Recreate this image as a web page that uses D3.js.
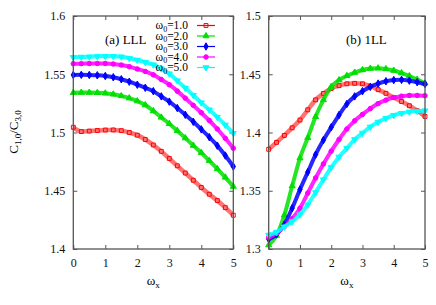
<!DOCTYPE html>
<html>
<head>
<meta charset="utf-8">
<script src="https://cdn.jsdelivr.net/npm/d3@7"></script>
<style>
  body { margin: 0; background: #fff; }
  text { font-family: "Liberation Serif", "DejaVu Serif", serif; }
</style>
</head>
<body>
<script>
// omega_x samples (step 0.25)
var omegaX = [0, 0.25, 0.5, 0.75, 1, 1.25, 1.5, 1.75, 2, 2.25, 2.5, 2.75, 3, 3.25, 3.5, 3.75, 4, 4.25, 4.5, 4.75, 5];

var seriesNames = ["1.0", "2.0", "3.0", "4.0", "5.0"];

// panel (a) LLL
var lll_w1 = [1.5045, 1.5008, 1.5012, 1.5017, 1.5021, 1.5022, 1.5016, 1.5000, 1.4977, 1.4940, 1.4893, 1.4838, 1.4777, 1.4714, 1.4652, 1.4590, 1.4528, 1.4470, 1.4416, 1.4355, 1.4290];
var lll_w2 = [1.5342, 1.5343, 1.5343, 1.5341, 1.5337, 1.5328, 1.5314, 1.5295, 1.5270, 1.5236, 1.5185, 1.5130, 1.5075, 1.5015, 1.4952, 1.4888, 1.4826, 1.4758, 1.4688, 1.4615, 1.4536];
var lll_w3 = [1.5494, 1.5495, 1.5494, 1.5491, 1.5485, 1.5474, 1.5457, 1.5436, 1.5410, 1.5384, 1.5355, 1.5310, 1.5265, 1.5210, 1.5152, 1.5092, 1.5027, 1.4960, 1.4887, 1.4802, 1.4708];
var lll_w4 = [1.5590, 1.5591, 1.5592, 1.5593, 1.5592, 1.5588, 1.5579, 1.5565, 1.5545, 1.5524, 1.5495, 1.5455, 1.5410, 1.5355, 1.5295, 1.5233, 1.5170, 1.5103, 1.5030, 1.4950, 1.4865];
var lll_w5 = [1.5646, 1.5648, 1.5650, 1.5653, 1.5655, 1.5655, 1.5650, 1.5638, 1.5622, 1.5604, 1.5582, 1.5548, 1.5505, 1.5445, 1.5382, 1.5320, 1.5256, 1.5195, 1.5132, 1.5065, 1.4994];

// panel (b) 1LL
var oneLL_w1 = [1.3856, 1.3915, 1.3975, 1.4040, 1.4107, 1.4195, 1.4280, 1.4335, 1.4378, 1.4402, 1.4418, 1.4422, 1.4418, 1.4398, 1.4368, 1.4336, 1.4300, 1.4266, 1.4230, 1.4187, 1.4138];
var oneLL_w2 = [1.3034, 1.3115, 1.3290, 1.3540, 1.3780, 1.3955, 1.4135, 1.4280, 1.4393, 1.4450, 1.4487, 1.4515, 1.4537, 1.4549, 1.4552, 1.4546, 1.4532, 1.4510, 1.4485, 1.4455, 1.4422];
var oneLL_w3 = [1.3085, 1.3125, 1.3210, 1.3350, 1.3510, 1.3660, 1.3810, 1.3935, 1.4045, 1.4150, 1.4245, 1.4310, 1.4355, 1.4392, 1.4420, 1.4440, 1.4450, 1.4452, 1.4445, 1.4432, 1.4416];
var oneLL_w4 = [1.3100, 1.3135, 1.3190, 1.3260, 1.3350, 1.3480, 1.3610, 1.3730, 1.3840, 1.3940, 1.4030, 1.4100, 1.4155, 1.4205, 1.4248, 1.4278, 1.4300, 1.4312, 1.4318, 1.4318, 1.4316];
var oneLL_w5 = [1.3120, 1.3145, 1.3190, 1.3235, 1.3295, 1.3380, 1.3485, 1.3595, 1.3700, 1.3790, 1.3865, 1.3940, 1.3995, 1.4048, 1.4090, 1.4122, 1.4148, 1.4165, 1.4177, 1.4184, 1.4187];

var xTicks = [0, 1, 2, 3, 4, 5];
var yTicksA = [1.4, 1.45, 1.5, 1.55, 1.6];
var yTicksB = [1.3, 1.35, 1.4, 1.45, 1.5];

var colors = ["#ff0000", "#00e000", "#0000ff", "#ff00ff", "#00ffff"];
var symbols = [d3.symbolSquare, d3.symbolTriangle, d3.symbolDiamond, d3.symbolCircle, d3.symbolTriangle];

var svg = d3.select("body").append("svg")
            .attr("width", 436)
            .attr("height", 305);

function marker(i) {
    return d3.symbol().type(symbols[i]).size(i === 0 ? 15 : 16);
}

function drawPanel(opts) {
    var x = d3.scaleLinear().domain([0, 5]).range([opts.x0, opts.x1]);
    var y = d3.scaleLinear().domain(opts.yDomain).range([249, 16]);
    var g = svg.append("g");

    // inward ticks on all four sides (gnuplot mirror style)
    var axes = [
        { ax: d3.axisBottom(x).tickValues(xTicks).tickFormat(d3.format("d")).tickSize(-4).tickPadding(9), t: "translate(0,249)" },
        { ax: d3.axisTop(x).tickValues(xTicks).tickFormat("").tickSize(-4), t: "translate(0,16)" },
        { ax: d3.axisLeft(y).tickValues(opts.yTicks).tickFormat(function(d) { return String(+d.toFixed(2)); }).tickSize(-4).tickPadding(8), t: "translate(" + opts.x0 + ",0)" },
        { ax: d3.axisRight(y).tickValues(opts.yTicks).tickFormat("").tickSize(-4), t: "translate(" + opts.x1 + ",0)" }
    ];
    axes.forEach(function(a) {
        var ag = g.append("g").attr("transform", a.t).call(a.ax);
        ag.select(".domain").remove();
        ag.selectAll(".tick line").attr("stroke", "#555").attr("stroke-width", 1);
        ag.selectAll(".tick text").attr("fill", "#111").style("font-size", "12px")
          .style("font-family", "'Liberation Serif', serif");
    });

    var line = d3.line()
                 .x(function(d) { return x(d[0]); })
                 .y(function(d) { return y(d[1]); })
                 .curve(d3.curveMonotoneX);

    opts.series.forEach(function(vals, i) {
        var pts = omegaX.map(function(v, k) { return [v, vals[k]]; });
        g.append("path")
         .datum(pts)
         .attr("d", line)
         .attr("fill", "none")
         .attr("stroke", colors[i])
         .attr("stroke-width", i === 0 ? 4.5 : 4)
         .attr("stroke-opacity", i === 0 ? 0.55 : 0.85);
        g.selectAll(null)
         .data(pts)
         .enter()
         .append("path")
         .attr("transform", function(d) {
             return "translate(" + x(d[0]) + "," + y(d[1]) + ")" + (i === 4 ? " rotate(180)" : "");
         })
         .attr("d", marker(i))
         .attr("fill", i === 0 ? "none" : colors[i])
         .attr("stroke", colors[i])
         .attr("stroke-width", 1);
    });

    g.append("rect")
     .attr("x", opts.x0).attr("y", 16)
     .attr("width", opts.x1 - opts.x0).attr("height", 233)
     .attr("fill", "none")
     .attr("stroke", "#555")
     .attr("stroke-width", 1.3);

    g.append("text")
     .attr("x", opts.labelX).attr("y", 44)
     .style("font-size", "13px")
     .text(opts.label);

    var xl = g.append("text")
              .attr("x", (opts.x0 + opts.x1) / 2)
              .attr("y", 285)
              .attr("text-anchor", "middle")
              .style("font-size", "13px");
    xl.append("tspan").text("\u03c9");
    xl.append("tspan").attr("dy", 3).style("font-size", "9px").text("x");
}

drawPanel({ x0: 73.3, x1: 233.3, yDomain: [1.4, 1.6], yTicks: yTicksA,
            series: [lll_w1, lll_w2, lll_w3, lll_w4, lll_w5], label: "(a) LLL", labelX: 105 });
drawPanel({ x0: 268.7, x1: 425, yDomain: [1.3, 1.5], yTicks: yTicksB,
            series: [oneLL_w1, oneLL_w2, oneLL_w3, oneLL_w4, oneLL_w5], label: "(b) 1LL", labelX: 346 });

// y label
var yl = svg.append("text")
            .attr("transform", "translate(18,132) rotate(-90)")
            .attr("text-anchor", "middle")
            .style("font-size", "13px");
yl.append("tspan").text("C");
yl.append("tspan").attr("dy", 3).style("font-size", "9px").text("1,0");
yl.append("tspan").attr("dy", -3).text("/C");
yl.append("tspan").attr("dy", 3).style("font-size", "9px").text("3,0");

// legend
var legend = svg.append("g");
seriesNames.forEach(function(name, i) {
    var ly = 25.5 + i * 10.5;
    var t = legend.append("text")
                  .attr("x", 188).attr("y", ly + 3.5)
                  .attr("text-anchor", "end")
                  .style("font-size", "11.5px");
    t.append("tspan").text("\u03c9");
    t.append("tspan").attr("dy", 2.5).style("font-size", "8px").text("0");
    t.append("tspan").attr("dy", -2.5).text("=" + name);
    legend.append("line")
          .attr("x1", 197).attr("x2", 215)
          .attr("y1", ly).attr("y2", ly)
          .attr("stroke", colors[i])
          .attr("stroke-width", 1.2);
    legend.append("path")
          .attr("transform", "translate(206," + ly + ")" + (i === 4 ? " rotate(180)" : ""))
          .attr("d", marker(i))
          .attr("fill", i === 0 ? "none" : colors[i])
          .attr("stroke", colors[i])
          .attr("stroke-width", 1);
});
</script>
</body>
</html>
